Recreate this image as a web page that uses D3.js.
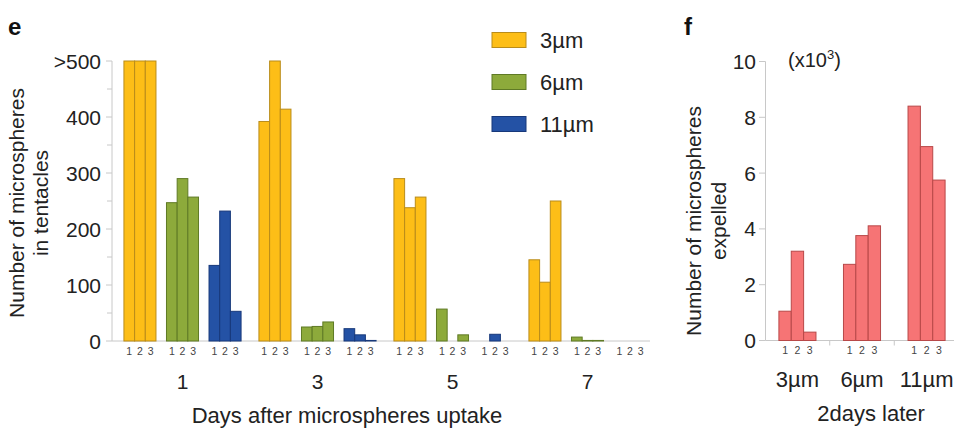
<!DOCTYPE html>
<html><head><meta charset="utf-8">
<script src="https://cdn.jsdelivr.net/npm/d3@7"></script>
<style>body{margin:0;background:#fff}svg{display:block;font-family:"Liberation Sans",Arial,sans-serif}</style>
</head><body><svg id="c" width="954" height="430"></svg>
<script>
// ---- Panel e data ----
const days = ["1", "3", "5", "7"];
const sizes = ["3µm", "6µm", "11µm"];
const reps = ["1", "2", "3"];
const e3um = [[500, 500, 500], [392, 500, 414], [290, 238, 257], [145, 105, 250]];
const e6um = [[247, 290, 257], [25, 26, 34], [57, 0, 11], [7, 1, 1]];
const e11um = [[135, 232, 53], [22, 11, 1], [0, 12, 0], [0, 0, 0]];
const eTicks = [0, 100, 200, 300, 400, 500];
const eTickLabels = ["0", "100", "200", "300", "400", ">500"];
// ---- Panel f data ----
const fValues = [[1.05, 3.2, 0.3], [2.73, 3.76, 4.11], [8.4, 6.95, 5.75]];
const fTicks = [0, 2, 4, 6, 8, 10];

const colors = ["#FDBE17", "#8DAA3B", "#2452A5"];
const strokes = ["#B98C1A", "#5F7A25", "#17387A"];
const fFill = "#F67475", fStroke = "#B84848";
const axisCol = "#c8c8c8", textCol = "#222";

const svg = d3.select("#c");

// ===== Panel e =====
const eY = d3.scaleLinear().domain([0, 500]).range([341, 61]);
const x0 = d3.scaleBand().domain(days).range([115, 655]).padding(0);
const x1 = d3.scaleBand().domain(sizes).range([0, x0.bandwidth()]).paddingInner(0.247).paddingOuter(0.21);
const x2 = d3.scaleBand().domain(reps).range([0, x1.bandwidth()]).padding(0);
const eSeries = [e3um, e6um, e11um];

const eg = svg.append("g");
// y axis
eg.append("line").attr("x1", 112).attr("x2", 112).attr("y1", eY(500)).attr("y2", eY(0)).attr("stroke", axisCol);
eTicks.forEach((t, i) => {
  eg.append("line").attr("x1", 106).attr("x2", 112).attr("y1", eY(t)).attr("y2", eY(t)).attr("stroke", axisCol);
  eg.append("text").attr("x", 101).attr("y", eY(t)).attr("dy", "0.36em").attr("text-anchor", "end")
    .attr("font-size", 21).attr("fill", textCol).text(eTickLabels[i]);
});
d3.range(50, 500, 100).forEach(t => {
  eg.append("line").attr("x1", 107).attr("x2", 112).attr("y1", eY(t)).attr("y2", eY(t)).attr("stroke", axisCol);
});
// x axis line
eg.append("line").attr("x1", 112).attr("x2", 650).attr("y1", eY(0)).attr("y2", eY(0)).attr("stroke", axisCol);

days.forEach((d, di) => {
  sizes.forEach((s, si) => {
    const gx = x0(d) + x1(s);
    reps.forEach((r, ri) => {
      const v = eSeries[si][di][ri];
      if (v > 0) {
        eg.append("rect").attr("x", gx + x2(r)).attr("y", eY(v)).attr("width", x2.bandwidth())
          .attr("height", eY(0) - eY(v)).attr("fill", colors[si]).attr("stroke", strokes[si]).attr("stroke-width", 1);
      }
      eg.append("text").attr("x", gx + x2(r) + x2.bandwidth() / 2).attr("y", 355).attr("text-anchor", "middle")
        .attr("font-size", 10.5).attr("fill", "#444").text(r);
    });
  });
  eg.append("text").attr("x", x0(d) + x0.bandwidth() / 2).attr("y", 389).attr("text-anchor", "middle")
    .attr("font-size", 21).attr("fill", textCol).text(d);
});
eg.append("text").attr("x", 347).attr("y", 423).attr("text-anchor", "middle").attr("font-size", 22)
  .attr("fill", textCol).text("Days after microspheres uptake");
eg.append("text").attr("transform", "translate(24,203) rotate(-90)").attr("text-anchor", "middle")
  .attr("font-size", 21).attr("fill", textCol).text("Number of microspheres");
eg.append("text").attr("transform", "translate(48,203) rotate(-90)").attr("text-anchor", "middle")
  .attr("font-size", 21).attr("fill", textCol).text("in tentacles");
eg.append("text").attr("x", 8).attr("y", 35).attr("font-size", 24).attr("font-weight", "bold").attr("fill", "#111").text("e");

// legend
sizes.forEach((s, i) => {
  const ly = 40 + i * 42;
  eg.append("rect").attr("x", 492).attr("y", ly - 7.5).attr("width", 34).attr("height", 15)
    .attr("fill", colors[i]).attr("stroke", strokes[i]).attr("stroke-width", 1);
  eg.append("text").attr("x", 540).attr("y", ly).attr("dy", "0.36em").attr("font-size", 22).attr("fill", textCol).text(s);
});

// ===== Panel f =====
const fY = d3.scaleLinear().domain([0, 10]).range([340.5, 61.5]);
const fx = d3.scaleBand().domain(sizes).range([766, 958]).paddingInner(0.426).paddingOuter(0.2);
const fx2 = d3.scaleBand().domain(reps).range([0, fx.bandwidth()]).padding(0);
const fg = svg.append("g");
fg.append("line").attr("x1", 765.5).attr("x2", 765.5).attr("y1", fY(10)).attr("y2", fY(0)).attr("stroke", axisCol);
fTicks.forEach(t => {
  fg.append("line").attr("x1", 759).attr("x2", 765.5).attr("y1", fY(t)).attr("y2", fY(t)).attr("stroke", axisCol);
  fg.append("text").attr("x", 756).attr("y", fY(t)).attr("dy", "0.36em").attr("text-anchor", "end")
    .attr("font-size", 21).attr("fill", textCol).text(t);
});
fg.append("line").attr("x1", 765.5).attr("x2", 954).attr("y1", fY(0)).attr("y2", fY(0)).attr("stroke", axisCol);
sizes.forEach((s, si) => {
  if (si > 0) {
    const bx = (fx(sizes[si - 1]) + fx.bandwidth() + fx(s)) / 2;
    fg.append("line").attr("x1", bx).attr("x2", bx).attr("y1", fY(0)).attr("y2", fY(0) + 5).attr("stroke", axisCol);
  }
  reps.forEach((r, ri) => {
    const v = fValues[si][ri];
    fg.append("rect").attr("x", fx(s) + fx2(r)).attr("y", fY(v)).attr("width", fx2.bandwidth())
      .attr("height", fY(0) - fY(v)).attr("fill", fFill).attr("stroke", fStroke).attr("stroke-width", 1);
    fg.append("text").attr("x", fx(s) + fx2(r) + fx2.bandwidth() / 2).attr("y", 354).attr("text-anchor", "middle")
      .attr("font-size", 10.5).attr("fill", "#444").text(r);
  });
  fg.append("text").attr("x", fx(s) + fx.bandwidth() / 2).attr("y", 387).attr("text-anchor", "middle")
    .attr("font-size", 22).attr("fill", textCol).text(s);
});
fg.append("text").attr("x", 871).attr("y", 421).attr("text-anchor", "middle").attr("font-size", 22)
  .attr("fill", textCol).text("2days later");
fg.append("text").attr("transform", "translate(701,221) rotate(-90)").attr("text-anchor", "middle")
  .attr("font-size", 21).attr("fill", textCol).text("Number of microspheres");
fg.append("text").attr("transform", "translate(726,221) rotate(-90)").attr("text-anchor", "middle")
  .attr("font-size", 21).attr("fill", textCol).text("expelled");
const unit = fg.append("text").attr("x", 788).attr("y", 67).attr("font-size", 20).attr("fill", textCol);
unit.append("tspan").text("(x10");
unit.append("tspan").attr("dy", -8).attr("font-size", 13).text("3");
unit.append("tspan").attr("dy", 8).text(")");
fg.append("text").attr("x", 684).attr("y", 35).attr("font-size", 24).attr("font-weight", "bold").attr("fill", "#111").text("f");
</script></body></html>
